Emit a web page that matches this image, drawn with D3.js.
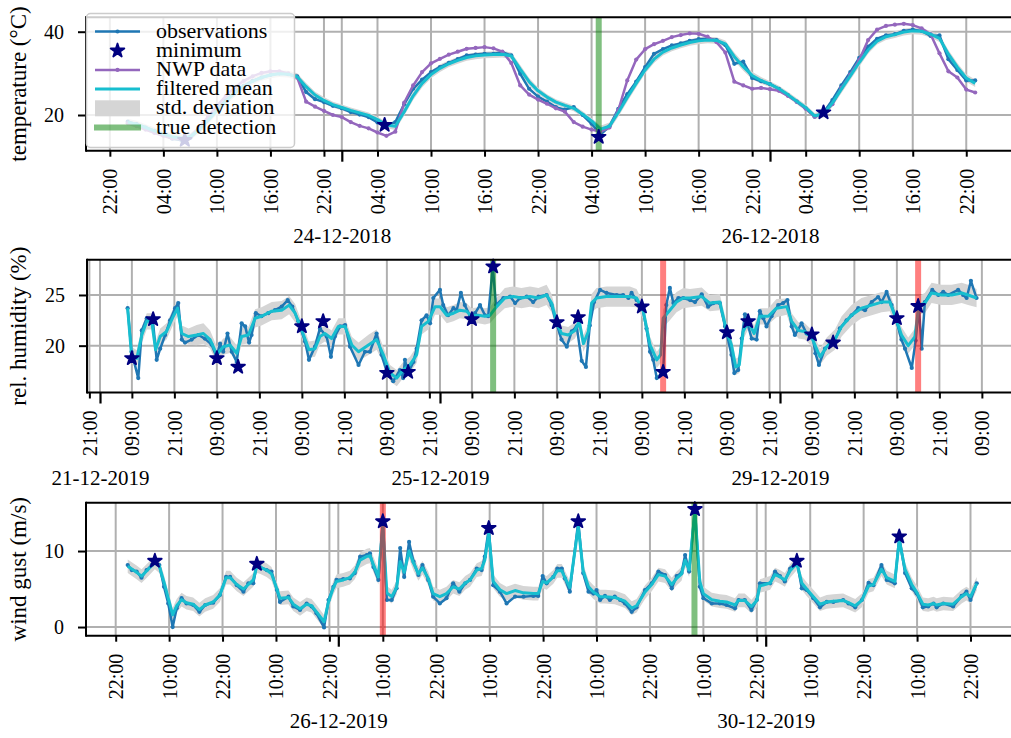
<!DOCTYPE html>
<html>
<head>
<meta charset="utf-8">
<script src="https://cdn.jsdelivr.net/npm/d3@7"></script>
<style>
body { margin: 0; background: #fff; }
svg { display: block; }
text { font-family: "Liberation Serif", "Times New Roman", serif; fill: #000; }
</style>
</head>
<body>
<div id="chart"></div>
<script>
// ---------------- temperature: hourly values from 23-12-2018 00:00 ----------------
var tempStart = new Date(2018, 11, 23, 0)
var tempObs = [18.4, 17.8, 17.0, 16.2, 15.3, 14.3, 14.0, 14.5, 16.5, 19.0, 21.3, 23.5, 25.5, 27.0, 28.2, 29.0, 29.6, 30.0, 29.8, 29.3,
  25.5, 23.8, 23.1, 22.2, 21.6, 20.7, 20.1, 19.5, 18.2, 17.6, 18.3, 22.6, 26.3, 28.5, 30.3, 31.5, 32.5, 33.4, 34.3, 34.5, 34.7, 34.7, 35.1, 34.3,
  29.9, 26.3, 24.4, 23.2, 21.9, 21.3, 21.9, 20.0, 17.9, 15.3, 17.3, 21.5, 25.0, 28.0, 31.5, 34.7, 35.8, 36.7, 37.2, 37.8, 38.2, 38.3, 38.0, 36.8,
  32.3, 32.8, 28.9, 28.1, 27.4, 26.3, 24.8, 23.2, 21.6, 19.6, 20.6, 23.6, 27.1, 30.3, 33.7, 36.4, 38.3, 39.1, 39.4, 40.2, 40.5, 40.2, 39.0, 39.1, 33.4, 30.8, 28.3, 28.3]
var tempNwp = [18.0, 17.3, 16.5, 15.7, 15.0, 14.4, 14.2, 14.8, 17.0, 19.6, 22.2, 24.6, 26.6, 28.2, 29.3, 30.1, 30.5, 30.5, 30.0, 29.0,
  23.2, 22.0, 21.0, 20.0, 19.5, 18.3, 17.4, 16.8, 15.8, 15.0, 16.0, 23.0, 27.1, 30.3, 32.4, 33.5, 34.5, 35.2, 35.9, 36.1, 36.3, 36.0, 35.2,
  32.5, 27.1, 24.9, 23.7, 22.7, 21.6, 20.8, 18.3, 17.2, 16.5, 16.0,
  17.0, 21.2, 28.3, 33.3, 35.8, 37.0, 37.8, 38.7, 39.2, 39.6, 39.5, 38.8, 37.5, 35.0, 28.0,
  27.1, 26.3, 26.5, 26.2, 25.8, 24.6, 23.2, 21.5, 19.6, 20.4, 22.6, 26.5, 29.7, 33.2, 38.0, 40.5, 41.4, 41.7, 41.9, 41.6, 40.8, 39.4, 34.8, 30.5, 29.0, 26.1, 25.4]
var tempMean = [18.3, 17.8, 17.0, 16.2, 15.4, 14.8, 14.5, 14.8, 16.4, 18.7, 21.0, 23.3, 25.3, 26.9, 28.1, 29.0, 29.6, 29.9, 29.8, 29.2,
  26.8, 24.8, 23.5, 22.5, 21.8, 21.1, 20.5, 19.9, 18.9, 17.6, 17.3, 20.8, 24.6, 27.6, 29.7, 31.2, 32.3, 33.1, 33.8, 34.2, 34.4, 34.5, 34.6, 34.2,
  31.0, 28.0, 25.8, 24.3, 23.1, 22.3, 21.6, 20.2, 18.6, 16.6, 17.3, 20.6, 24.2, 27.6, 30.8, 33.4, 35.1, 36.1, 36.8, 37.4, 37.8, 38.0, 37.9, 37.1,
  34.0, 31.6, 29.5, 28.3, 27.4, 26.3, 24.9, 23.3, 21.8, 19.8, 20.2, 22.9, 26.2, 29.4, 32.6, 35.6, 37.7, 38.8, 39.3, 39.9, 40.2, 40.1, 39.4, 38.4, 34.6, 31.5, 28.9, 27.6]
var tempStd = [0.8, 0.8, 0.8, 0.8, 0.8, 0.8, 0.8, 0.8, 0.9, 0.9, 0.9, 0.9, 0.9, 0.9, 0.8, 0.8, 0.8, 0.8, 0.8, 0.8,
  0.9, 0.8, 0.8, 0.7, 0.7, 0.7, 0.7, 0.7, 0.7, 0.8,
  0.9, 1.0, 1.0, 1.0, 0.9, 0.9, 0.8, 0.8, 0.8, 0.8, 0.8, 0.8, 0.8, 0.8,
  1.0, 0.9, 0.8, 0.7, 0.7, 0.7, 0.7, 0.7, 0.7, 0.8,
  0.9, 1.0, 1.0, 1.0, 0.9, 0.9, 0.8, 0.8, 0.8, 0.8, 0.8, 0.8, 0.8, 0.8,
  1.0, 1.0, 0.9, 0.8, 0.7, 0.7, 0.7, 0.7, 0.7, 0.7,
  0.8, 0.9, 1.0, 1.0, 1.0, 0.9, 0.8, 0.8, 0.8, 0.8, 0.8, 0.8, 0.8, 0.9,
  1.0, 1.0, 0.9, 0.9]
var tempMin = [[6.4, 14.0], [28.8, 17.6], [52.8, 14.7], [78.0, 20.6]]
var tempTrue = [52.8]
var tempFalse = []

// ---------------- relative humidity: [hours from 21-12-2019 00:00, value] ----------------
var humStart = new Date(2019, 11, 21, 0)
var humObs = [[7.8,23.7],[8.9,19.4],[10.8,16.8],[11.8,21.5],[13.2,22.7],[14.9,22.6],[16.0,18.6],[17.0,19.7],[18.4,21.05],[19.8,22.5],
  [21.2,23.7],[22.1,24.2],[23.1,20.6],[24.0,20.3],[25.9,20.6],[27.8,21.05],[29.6,20.7],[31.5,20.1],[32.9,18.9],[33.9,20.2],
  [34.8,19.4],[36.0,21.2],[37.2,19.4],[38.6,18.4],[40.0,22.2],[41.0,21.9],[42.1,20.3],[42.8,21.05],[44.0,23.2],[45.6,22.9],
  [47.5,23.2],[49.4,23.5],[51.3,23.85],[53.0,24.5],[54.3,23.85],[56.0,22.4],[57.9,20.4],[59.0,18.6],[60.7,19.9],[62.1,21.7],
  [64.0,20.9],[65.2,18.9],[66.3,20.9],[67.8,21.9],[69.2,22.04],[70.6,19.9],[73.0,18.1],[74.8,19.4],[76.2,19.4],[78.1,21.2],
  [79.5,19.1],[81.0,17.4],[82.8,16.5],[84.7,17.6],[85.6,16.8],[86.1,18.6],[87.0,17.3],[88.5,18.4],[89.4,19.7],[90.8,22.5],
  [92.2,23.0],[93.2,22.2],[94.1,24.7],[96.0,25.5],[96.9,24.0],[98.3,23.0],[99.8,23.7],[100.7,23.5],[101.9,25.2],[103.0,24.0],
  [104.5,22.9],[105.9,23.2],[107.3,24.0],[108.7,23.0],[109.6,22.9],[110.9,27.8],[111.8,24.0],[113.9,24.7],[115.8,24.84],[117.2,24.2],
  [118.6,24.7],[120.5,24.84],[122.3,24.3],[123.8,24.84],[126.1,25.0],[127.5,24.0],[128.7,22.4],[130.3,20.6],[131.8,19.9],[133.2,21.4],
  [134.6,21.9],[136.0,18.5],[137.2,17.9],[138.3,22.0],[139.5,24.3],[141.2,25.5],[143.0,25.2],[145.9,25.0],[147.7,25.0],[149.2,24.7],
  [150.1,25.2],[151.5,24.5],[153.0,24.0],[154.3,21.7],[155.3,19.4],[156.2,18.6],[157.2,16.8],[159.0,17.4],[159.9,24.0],[160.9,25.7],
  [161.9,24.2],[163.3,24.7],[164.7,24.7],[166.6,24.5],[168.0,24.3],[169.9,25.07],[171.7,23.85],[173.2,24.2],[175.0,24.2],[176.5,21.9],
  [178.3,19.1],[179.1,17.3],[180.2,17.6],[181.2,20.7],[182.1,23.1],[184.0,20.7],[185.4,20.6],[186.3,23.4],[187.3,22.7],[188.2,21.9],
  [189.6,22.9],[191.5,24.0],[192.9,24.2],[194.1,24.5],[195.3,21.9],[196.2,21.05],[198.1,22.2],[199.5,21.2],[201.1,21.1],[202.0,19.25],
  [203.0,18.1],[204.7,19.7],[206.1,20.2],[207.2,20.3],[208.9,21.7],[210.8,22.5],[212.2,23.0],[214.1,23.7],[216.0,23.5],[217.9,24.3],
  [219.7,24.8],[220.7,24.3],[222.1,25.3],[223.5,24.0],[224.5,22.9],[226.3,20.6],[227.3,19.7],[229.2,17.8],[230.3,20.5],[231.2,23.9],
  [232.0,19.7],[232.9,24.3],[235.0,25.5],[236.7,25.0],[238.1,25.3],[239.5,25.0],[242.3,25.5],[243.7,25.0],[244.7,24.7],[245.9,26.4],[247.5,24.7]]
// [hours, filtered mean, std. deviation]
var humMean = [[7.8,23.7,0.8],[8.9,19.1,0.8],[10.4,18.75,0.8],[11.8,21.05,0.8],[13.2,22.4,0.8],[14.6,22.4,0.8],[15.7,19.6,0.8],[17.0,20.9,0.8],
  [18.8,21.4,0.8],[20.7,22.9,0.8],[21.9,23.7,0.8],[23.1,21.2,0.8],[25.0,20.9,0.8],[27.3,21.05,1.0],[29.2,21.2,1.0],[31.1,20.6,0.9],
  [33.0,19.1,0.8],[34.8,19.9,0.8],[36.7,20.07,0.8],[38.6,19.25,0.8],[40.0,20.9,0.8],[41.9,21.05,0.8],[43.8,22.7,0.9],[45.6,22.9,0.9],
  [48.5,23.4,0.9],[51.3,23.5,0.9],[53.4,24.0,0.9],[55.1,23.2,0.9],[57.0,21.5,0.8],[59.0,19.6,0.8],[60.7,19.7,0.8],[62.1,20.9,0.8],
  [63.5,21.2,0.8],[65.4,20.7,0.8],[67.3,21.9,0.8],[69.2,21.9,0.8],[71.1,20.07,0.8],[73.0,19.4,0.9],[75.8,20.07,1.0],[78.1,20.6,1.0],
  [80.0,19.1,0.8],[81.9,17.3,0.8],[83.8,16.8,0.8],[85.6,17.6,0.8],[87.5,18.1,0.8],[89.4,19.1,0.8],[90.8,21.9,0.8],[92.7,22.4,0.8],
  [94.6,23.85,0.8],[96.0,23.85,0.8],[97.9,23.0,0.8],[99.8,23.2,0.8],[101.6,23.5,0.8],[103.5,23.4,0.8],[104.9,22.9,0.8],[106.8,23.0,0.8],
  [108.7,22.9,0.8],[110.1,23.0,0.8],[112.0,23.85,0.9],[114.3,24.7,1.0],[116.7,24.84,1.0],[119.0,24.7,1.0],[121.4,24.84,1.0],[123.8,24.7,1.0],
  [126.1,25.0,1.0],[127.5,24.2,0.9],[128.9,22.4,0.8],[130.3,21.2,0.8],[132.2,21.05,0.8],[134.1,21.5,0.8],[135.3,22.4,0.8],[136.5,20.2,0.8],
  [137.9,21.4,0.8],[138.8,24.2,0.9],[140.2,24.7,1.0],[143.0,24.84,1.0],[146.8,24.84,1.0],[149.6,24.84,1.0],[151.5,24.7,0.9],[153.4,23.4,0.8],
  [155.3,20.07,0.8],[157.2,18.6,0.8],[158.3,19.1,0.8],[159.0,22.7,0.9],[160.9,23.5,1.0],[162.8,24.3,1.0],[164.7,24.7,1.0],[166.6,24.7,0.9],
  [169.9,24.84,0.9],[172.2,24.2,0.8],[175.0,24.3,0.8],[176.9,21.5,0.8],[178.3,20.07,0.8],[179.5,17.9,0.8],[180.5,18.1,0.8],[181.6,21.4,0.8],
  [183.0,22.4,0.8],[184.7,21.2,0.8],[186.3,22.9,0.8],[188.7,22.9,0.8],[191.0,23.7,0.9],[193.9,23.85,0.8],[195.3,22.4,0.8],[197.2,21.5,0.8],
  [199.0,21.4,0.8],[201.1,20.7,0.8],[203.3,18.9,0.8],[205.2,19.9,0.9],[207.5,20.6,1.0],[209.4,21.9,1.0],[212.2,23.0,1.0],[215.0,23.7,1.0],
  [217.9,24.0,1.0],[220.7,24.3,1.0],[223.0,24.3,0.9],[224.9,22.5,0.8],[226.3,21.05,0.8],[228.2,20.0,0.8],[230.1,20.9,0.8],[231.2,24.0,0.9],
  [232.9,24.2,1.0],[234.8,25.2,1.0],[237.6,25.0,1.0],[240.5,25.0,1.0],[243.3,25.2,1.0],[245.1,25.0,1.0],[247.5,24.7,0.9]]
var humMin = [[9,18.75],[15,22.6],[33,18.75],[39,17.9],[57,21.9],[63,22.4],[81,17.3],[87,17.4],[105,22.6],[111,27.8],
  [129,22.3],[135,22.8],[153,23.85],[159,17.4],[177,21.3],[183,22.4],[201,21.1],[207,20.3],[225,22.7],[231,23.9]]
var humTrue = [111]
var humFalse = [159, 231]

// ---------------- wind gust: [hours from 24-12-2019 00:00, value] ----------------
var windStart = new Date(2019, 11, 24, 0)
var windObs = [[0.7,8.16],[1.6,7.5],[2.7,7.3],[3.8,6.5],[4.95,7.5],[6.1,8.16],[6.8,8.7],[7.8,8.16],[8.85,5.3],[9.8,3.1],
  [10.8,0.0],[11.7,2.46],[12.8,3.8],[13.9,3.1],[15.4,2.9],[16.8,2.0],[18.1,2.9],[19.9,3.2],[21.4,4.2],[22.8,6.6],
  [23.7,6.6],[25.2,5.5],[26.7,4.65],[27.8,5.75],[28.9,5.75],[29.7,8.3],[30.4,7.9],[31.9,7.5],[33.0,7.3],[34.2,4.87],
  [34.9,3.3],[36.8,4.0],[37.9,2.7],[39.4,2.24],[40.9,3.1],[42.0,2.7],[43.1,1.8],[44.8,-0.05],[45.8,3.56],[46.9,5.3],
  [47.6,6.2],[49.1,6.3],[50.6,6.4],[51.7,7.1],[52.9,9.26],[54.4,9.48],[55.1,9.7],[55.9,7.9],[57.0,6.2],[58.0,13.86],
  [58.9,3.56],[60.0,3.56],[61.1,5.1],[61.9,10.4],[62.8,6.6],[63.9,11.2],[64.9,8.6],[66.0,6.85],[66.9,8.16],[68.2,6.2],
  [69.3,4.0],[70.8,3.1],[72.3,3.8],[73.8,5.75],[75.2,4.65],[76.5,5.75],[77.6,6.2],[79.1,7.7],[80.2,7.5],[80.9,9.26],
  [81.8,12.99],[82.8,5.5],[84.3,4.65],[85.8,3.1],[87.7,4.0],[89.6,4.0],[91.8,4.1],[92.9,4.1],[93.9,6.7],[94.8,5.75],
  [96.3,6.6],[97.2,7.7],[98.2,7.7],[98.9,6.4],[100.0,4.65],[101.9,13.86],[103.0,7.1],[104.2,4.65],[105.3,4.4],[106.0,4.87],
  [106.8,3.56],[107.9,4.1],[109.0,3.56],[110.1,4.0],[111.3,3.56],[112.4,3.1],[113.9,2.0],[115.0,2.6],[116.9,4.87],[118.4,5.75],
  [119.9,7.3],[121.4,6.85],[122.9,5.1],[124.0,6.7],[125.1,7.1],[125.9,9.48],[126.8,7.3],[128.1,15.53],[129.2,5.3],[130.0,3.8],
  [131.9,3.1],[133.7,3.1],[135.2,2.9],[137.1,2.46],[137.9,3.56],[139.3,3.56],[140.8,2.24],[142.0,3.56],[142.7,5.75],[145.0,5.75],
  [146.1,7.3],[147.2,6.7],[148.3,6.0],[149.5,7.7],[151.0,8.73],[152.1,5.1],[153.2,4.87],[154.7,3.8],[156.2,2.6],[157.7,3.3],
  [159.2,3.3],[161.4,3.56],[162.6,3.1],[164.1,2.6],[165.6,3.56],[167.1,5.8],[168.2,5.5],[170.0,8.16],[171.2,6.2],[173.0,5.75],
  [174.0,11.9],[175.3,7.1],[176.8,5.1],[177.9,4.4],[179.3,2.6],[180.5,2.7],[181.7,3.1],[182.4,2.6],[183.9,3.1],[186.1,2.7],
  [188.0,4.1],[189.1,4.65],[190.0,3.56],[191.4,5.75]]
// [hours, filtered mean, std. deviation]
var windMean = [[0.7,8.0,0.9],[2.7,7.2,0.9],[3.8,6.7,0.9],[5.0,7.4,0.9],[6.8,8.5,0.9],[7.8,8.0,0.9],[8.9,5.8,0.9],[9.8,3.8,0.9],
  [10.8,1.6,0.9],[11.7,2.8,0.9],[12.8,3.6,0.9],[13.9,3.2,0.9],[15.4,3.0,0.9],[16.8,2.3,0.9],[18.1,2.9,0.9],[19.9,3.3,0.9],
  [21.4,4.2,0.9],[22.8,6.5,0.9],[23.7,6.5,0.9],[25.2,5.6,0.9],[26.7,5.0,0.9],[27.8,5.6,0.9],[28.9,6.2,0.9],[29.7,8.0,0.9],
  [30.4,7.9,0.9],[31.9,7.5,0.9],[33.0,7.0,0.9],[34.2,5.0,0.9],[34.9,3.8,0.9],[36.8,3.9,0.9],[37.9,3.0,0.9],[39.4,2.4,0.9],
  [40.9,3.0,0.9],[42.0,2.8,0.9],[43.1,2.0,0.9],[44.8,0.7,0.9],[45.8,3.3,0.9],[46.9,5.2,0.9],[47.6,6.0,0.9],[49.1,6.2,0.9],
  [50.6,6.5,0.9],[51.7,7.2,0.9],[52.9,8.8,1.0],[54.4,9.3,1.0],[55.1,9.4,1.0],[55.9,8.2,1.0],[57.0,6.6,1.0],[58.0,13.4,1.0],
  [58.9,4.5,0.9],[60.0,4.0,0.9],[61.1,5.2,0.9],[61.9,8.6,1.0],[62.8,7.2,1.0],[63.9,10.0,1.0],[64.9,8.4,1.0],[66.0,7.0,0.9],
  [66.9,7.8,0.9],[68.2,6.4,0.9],[69.3,4.4,0.9],[70.8,4.0,0.9],[72.3,4.4,0.9],[73.8,5.3,0.9],[75.2,5.0,0.9],[76.5,5.8,0.9],
  [77.6,6.2,0.9],[79.1,7.5,0.9],[80.2,7.7,1.0],[80.9,8.8,1.0],[81.8,12.3,1.0],[82.8,6.0,0.9],[84.3,4.9,0.9],[85.8,4.4,0.9],
  [87.7,4.8,0.9],[89.6,4.5,0.9],[91.8,4.4,0.9],[92.9,4.4,0.9],[93.9,6.0,0.9],[94.8,5.8,0.9],[96.3,6.6,0.9],[97.2,7.4,0.9],
  [98.2,7.4,0.9],[98.9,6.5,0.9],[100.0,5.2,0.9],[101.9,13.2,1.0],[103.0,7.4,0.9],[104.2,5.3,0.9],[105.3,4.6,0.9],[106.8,4.0,0.9],
  [107.9,4.0,0.9],[110.1,3.9,0.9],[112.4,3.4,0.9],[113.9,2.5,0.9],[115.0,2.8,0.9],[116.9,4.6,0.9],[118.4,5.6,0.9],[119.9,6.9,0.9],
  [121.4,6.7,0.9],[122.9,5.6,0.9],[124.0,6.4,0.9],[125.1,7.0,0.9],[125.9,8.8,0.9],[126.8,7.5,0.9],[128.1,15.2,1.0],[129.2,6.0,0.9],
  [130.0,4.4,0.9],[131.9,3.6,0.9],[133.7,3.4,0.9],[135.2,3.3,0.9],[137.1,2.9,0.9],[137.9,3.5,0.9],[139.3,3.5,0.9],[140.8,2.7,0.9],
  [142.0,3.5,0.9],[142.7,5.4,0.9],[145.0,5.8,0.9],[146.1,6.9,0.9],[147.2,6.6,0.9],[148.3,6.2,0.9],[149.5,7.4,0.9],[151.0,8.4,0.9],
  [152.1,5.8,0.9],[153.2,5.0,0.9],[154.7,4.0,0.9],[156.2,3.0,0.9],[157.7,3.3,0.9],[159.2,3.4,0.9],[161.4,3.5,0.9],[162.6,3.2,0.9],
  [164.1,2.8,0.9],[165.6,3.5,0.9],[167.1,5.4,0.9],[168.2,5.6,0.9],[170.0,7.6,0.9],[171.2,6.5,0.9],[173.0,6.0,0.9],[174.0,11.4,1.0],
  [175.3,7.6,0.9],[176.8,5.6,0.9],[177.9,4.6,0.9],[179.3,3.0,0.9],[180.5,2.9,0.9],[181.7,3.1,0.9],[182.4,2.9,0.9],[183.9,3.1,0.9],
  [186.1,3.0,0.9],[188.0,4.0,0.9],[189.1,4.4,0.9],[190.0,4.0,0.9],[191.4,5.7,0.9]]
var windMin = [[6.8,8.7],[29.7,8.3],[58.0,13.9],[81.8,13.0],[101.9,13.9],[128.1,15.5],[151.0,8.7],[174.0,11.9]]
var windTrue = [128.0]
var windFalse = [58.0]

// ---------------- axis labels / ticks ----------------
var yLabels = ["temperature (\u00B0C)", "rel. humidity (%)", "wind gust (m/s)"]
var yTicks = [[20, 40], [20, 25], [0, 10]]
var minorHours = [[4, 10, 16, 22], [9, 21], [10, 22]]
var majorDates = [[new Date(2018, 11, 24), new Date(2018, 11, 26)],
                  [new Date(2019, 11, 21), new Date(2019, 11, 25), new Date(2019, 11, 29)],
                  [new Date(2019, 11, 26), new Date(2019, 11, 30)]]
var legendNames = ["observations", "minimum", "NWP data", "filtered mean", "std. deviation", "true detection"]

var colObs = "#1f77b4", colNwp = "#9467bd", colMean = "#17becf", colMin = "#000080"
var colBand = "#d5d5d5", colGrid = "#b0b0b0"

var W = 1011, H = 738
var svg = d3.select("#chart").append("svg").attr("width", W).attr("height", H)

var atHour = function(start, h){ return new Date(start.getTime() + h * 3600000) }
var fmtHM = d3.timeFormat("%H:%M")
var fmtDay = d3.timeFormat("%d-%m-%Y")
var starSym = d3.symbol().type(d3.symbolStar).size(58)

//panel frames: pixel position of two major dates gives the time scale
var panels = [
  {start: tempStart, obs: tempObs.map(function(v, i){ return [i, v] }), nwp: tempNwp.map(function(v, i){ return [i, v] }),
   mean: tempMean.map(function(v, i){ return [i, v, tempStd[i]] }), mins: tempMin, hits: tempTrue, misses: tempFalse,
   left: 86, right: 1040, top: 17.3, bottom: 150.7, yDomain: [11.43, 43.46], anchorPx: [341.8, 770]},
  {start: humStart, obs: humObs, nwp: null, mean: humMean, mins: humMin, hits: humTrue, misses: humFalse,
   left: 87, right: 1040, top: 259.8, bottom: 392.5, yDomain: [15.38, 28.47], anchorPx: [440, 780]},
  {start: windStart, obs: windObs, nwp: null, mean: windMean, mins: windMin, hits: windTrue, misses: windFalse,
   left: 86, right: 1040, top: 502.7, bottom: 635.7, yDomain: [-1.14, 16.36], anchorPx: [338.3, 765.7]}
]
var anchorDates = [[majorDates[0][0], majorDates[0][1]], [majorDates[1][1], majorDates[1][2]], [majorDates[2][0], majorDates[2][1]]]

var drawPanel = function(p, k){
  var x0 = d3.scaleTime().domain(anchorDates[k]).range(p.anchorPx)
  var x = d3.scaleTime().domain([x0.invert(p.left), x0.invert(p.right)]).range([p.left, p.right])
  var y = d3.scaleLinear().domain(p.yDomain).range([p.bottom, p.top])
  var g = svg.append("g")

  g.append("clipPath").attr("id", "clip" + k)
    .append("rect").attr("x", p.left).attr("y", p.top)
    .attr("width", p.right - p.left).attr("height", p.bottom - p.top)

  //only ticks that fall inside the picture
  var dom = [x.domain()[0], x.invert(W - 4)]
  var minor = d3.timeHour.range(dom[0], dom[1]).filter(function(d){ return minorHours[k].indexOf(d.getHours()) >= 0 })
  var major = majorDates[k].filter(function(d){ return d >= dom[0] && d <= dom[1] })

  //grid
  var grid = g.append("g").attr("stroke", colGrid).attr("stroke-width", 2)
  minor.concat(major).forEach(function(d){
    grid.append("line").attr("x1", x(d)).attr("x2", x(d)).attr("y1", p.top).attr("y2", p.bottom)
  })
  yTicks[k].forEach(function(v){
    grid.append("line").attr("x1", p.left).attr("x2", p.right).attr("y1", y(v)).attr("y2", y(v))
  })

  var data = g.append("g").attr("clip-path", "url(#clip" + k + ")")
  var px = function(d){ return x(atHour(p.start, d[0])) }

  //std. deviation band
  data.append("path").datum(p.mean)
    .attr("d", d3.area().x(px).y0(function(d){ return y(d[1] - d[2]) }).y1(function(d){ return y(d[1] + d[2]) }))
    .attr("fill", colBand)

  var line = d3.line().x(px).y(function(d){ return y(d[1]) })
  var series = [[p.obs, colObs, 2.5, true]]
  if (p.nwp) series.push([p.nwp, colNwp, 2.5, true])
  series.push([p.mean, colMean, 3, false])
  series.forEach(function(s){
    data.append("path").datum(s[0]).attr("d", line)
      .attr("fill", "none").attr("stroke", s[1]).attr("stroke-width", s[2]).attr("stroke-linejoin", "round")
    if (s[3]) {
      data.selectAll(null).data(s[0]).enter().append("circle")
        .attr("cx", px).attr("cy", function(d){ return y(d[1]) }).attr("r", 2.1).attr("fill", s[1])
    }
  })

  //detections
  p.hits.forEach(function(h){
    data.append("line").attr("x1", x(atHour(p.start, h))).attr("x2", x(atHour(p.start, h)))
      .attr("y1", p.top).attr("y2", p.bottom).attr("stroke", "green").attr("stroke-opacity", 0.5).attr("stroke-width", 6)
  })
  p.misses.forEach(function(h){
    data.append("line").attr("x1", x(atHour(p.start, h))).attr("x2", x(atHour(p.start, h)))
      .attr("y1", p.top).attr("y2", p.bottom).attr("stroke", "red").attr("stroke-opacity", 0.5).attr("stroke-width", 6)
  })

  //minimum stars
  g.selectAll(null).data(p.mins).enter().append("path")
    .attr("d", starSym)
    .attr("transform", function(d){ return "translate(" + px(d) + "," + y(d[1]) + ")" })
    .attr("fill", colMin).attr("stroke", colMin).attr("stroke-width", 1.8).attr("stroke-linejoin", "round")

  //spines
  g.append("line").attr("x1", p.left).attr("x2", p.right).attr("y1", p.top).attr("y2", p.top)
    .attr("stroke", "#000").attr("stroke-width", 2)
  g.append("line").attr("x1", p.left).attr("x2", p.right).attr("y1", p.bottom).attr("y2", p.bottom)
    .attr("stroke", "#000").attr("stroke-width", 2)
  g.append("line").attr("x1", p.left).attr("x2", p.left).attr("y1", p.top - 1).attr("y2", p.bottom + 1)
    .attr("stroke", "#000").attr("stroke-width", 2)

  //axes
  var ax1 = g.append("g").attr("transform", "translate(0," + p.bottom + ")")
    .call(d3.axisBottom(x).tickValues(minor).tickSize(6).tickFormat(fmtHM))
  ax1.select(".domain").remove()
  ax1.selectAll("line").attr("stroke-width", 2)
  ax1.selectAll("text").attr("transform", "rotate(-90)").attr("x", -18).attr("y", 0).attr("dy", "0.35em")
    .attr("text-anchor", "end").style("font-size", "20px").style("font-family", "Liberation Serif")

  var ax2 = g.append("g").attr("transform", "translate(0," + p.bottom + ")")
    .call(d3.axisBottom(x).tickValues(major).tickSize(11).tickFormat(fmtDay))
  ax2.select(".domain").remove()
  ax2.selectAll("line").attr("stroke-width", 2.2)
  ax2.selectAll("text").attr("y", 92.5).attr("dy", 0).style("font-size", "21px").style("font-family", "Liberation Serif")

  var ay = g.append("g").attr("transform", "translate(" + p.left + ",0)")
    .call(d3.axisLeft(y).tickValues(yTicks[k]).tickSize(8).tickPadding(14))
  ay.select(".domain").remove()
  ay.selectAll("line").attr("stroke-width", 2)
  ay.selectAll("text").style("font-size", "20px").style("font-family", "Liberation Serif")

  g.append("text").attr("transform", "translate(26," + ((p.top + p.bottom) / 2) + ") rotate(-90)")
    .attr("text-anchor", "middle").style("font-size", "23px").text(yLabels[k])
}

panels.forEach(drawPanel)

//legend on the temperature panel
var lg = svg.append("g")
lg.append("rect").attr("x", 86.5).attr("y", 13.5).attr("width", 208).attr("height", 134).attr("rx", 4)
  .attr("fill", "#fff").attr("fill-opacity", 0.8).attr("stroke", "#cccccc").attr("stroke-width", 1.5)
legendNames.forEach(function(name, i){
  var yy = 31.5 + i * 19.2
  var h = lg.append("g")
  if (i === 0 || i === 2 || i === 3) {
    var c = i === 0 ? colObs : (i === 2 ? colNwp : colMean)
    h.append("line").attr("x1", 95).attr("x2", 140).attr("y1", yy).attr("y2", yy)
      .attr("stroke", c).attr("stroke-width", i === 3 ? 3 : 2.5)
    if (i !== 3) h.append("circle").attr("cx", 117.5).attr("cy", yy).attr("r", 2.1).attr("fill", c)
  } else if (i === 1) {
    h.append("path").attr("d", starSym)
      .attr("transform", "translate(117.5," + yy + ")")
      .attr("fill", colMin).attr("stroke", colMin).attr("stroke-width", 1.8).attr("stroke-linejoin", "round")
  } else if (i === 4) {
    h.append("rect").attr("x", 95).attr("y", yy - 8).attr("width", 45).attr("height", 16).attr("fill", colBand)
  } else {
    h.append("line").attr("x1", 94).attr("x2", 141).attr("y1", yy).attr("y2", yy)
      .attr("stroke", "green").attr("stroke-opacity", 0.5).attr("stroke-width", 6)
  }
  lg.append("text").attr("x", 156).attr("y", yy + 6).style("font-size", "22px").text(name)
})
</script>
</body>
</html>
